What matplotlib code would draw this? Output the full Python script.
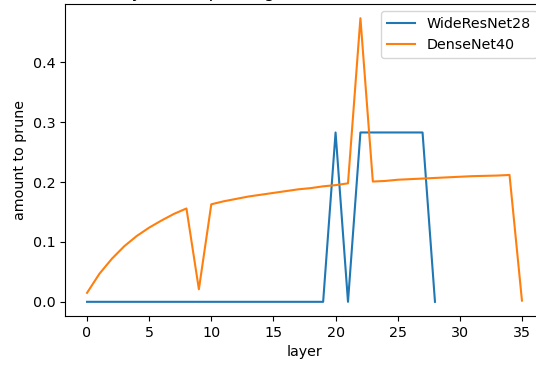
import matplotlib
matplotlib.use("Agg")
import matplotlib.pyplot as plt

plt.rcParams['font.size'] = 10.3

# amount to prune per layer
wrn_layers = list(range(29))
wrn_amount = [0.0] * 20 + [0.283, 0.0, 0.283, 0.283, 0.283, 0.283, 0.283, 0.283, 0.0]

dn_layers = list(range(36))
dn_amount = [0.015, 0.047, 0.072, 0.093, 0.110, 0.124, 0.136, 0.147, 0.156,
             0.021,
             0.163, 0.168, 0.172, 0.176, 0.179, 0.182, 0.185, 0.188, 0.190, 0.193, 0.195, 0.198,
             0.474,
             0.201, 0.202, 0.204, 0.205, 0.206, 0.207, 0.208, 0.209, 0.210, 0.2105, 0.211, 0.212,
             0.002]

fig = plt.figure(figsize=(5.36, 3.66), dpi=100)
ax = fig.add_axes([65.3 / 536, 50 / 366, 478.4 / 536, 312 / 366])

ax.plot(wrn_layers, wrn_amount, label="WideResNet28")
ax.plot(dn_layers, dn_amount, label="DenseNet40")

ax.set_xlabel("layer")
ax.set_ylabel("amount to prune")
# title sits mostly above the cropped top edge, as in the screenshot
ax.set_title("Layer-wise pruning amount for each network", pad=5)
ax.legend(loc="upper right")

fig.savefig("out.png", dpi=100)
